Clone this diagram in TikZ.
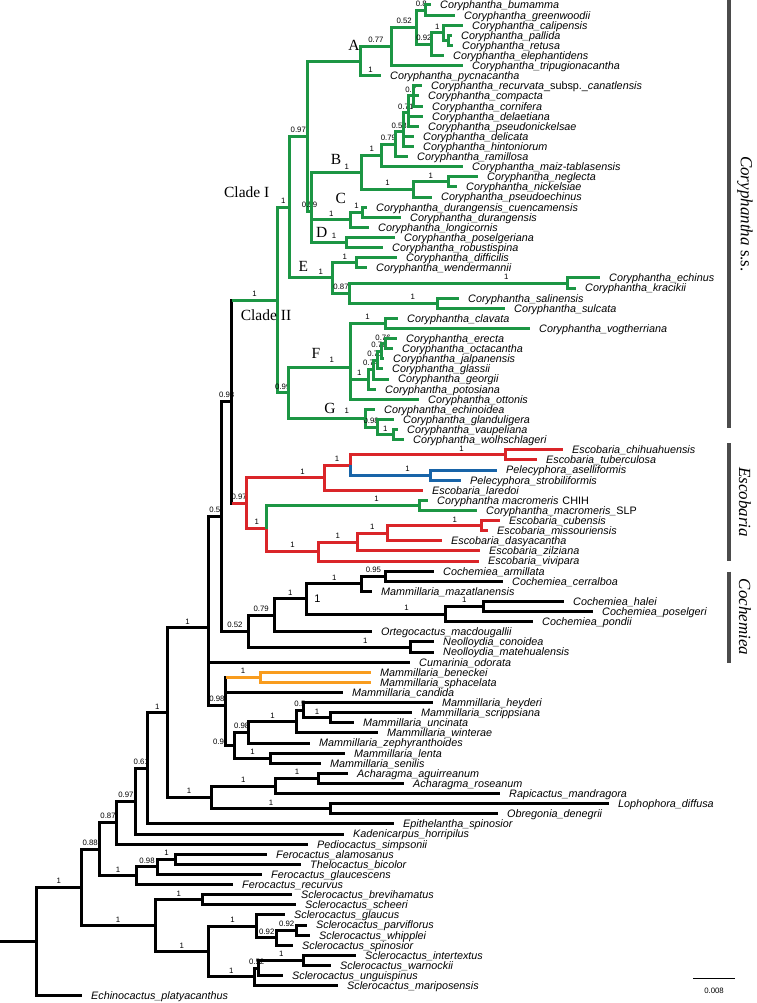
\documentclass[tikz,border=0pt]{standalone}
\usepackage{fontspec}
\setmainfont{Liberation Serif}
\setsansfont{Liberation Sans}
\usepackage{tikz}
\definecolor{cgreen}{RGB}{28,150,68}
\definecolor{cred}{RGB}{218,37,41}
\definecolor{cblue}{RGB}{24,100,168}
\definecolor{corange}{RGB}{248,156,30}
\definecolor{cbar}{RGB}{75,75,75}

\begin{document}
\begin{tikzpicture}[
    x=1pt, y=-10.11pt,
    tip/.style={
      anchor=west,
      inner xsep=9pt,
      inner ysep=0pt,
      text height=8.9pt,
      text depth=1.1pt,
      font=\sffamily\itshape\fontsize{10.8}{11}\selectfont
    },
    pp/.style={pos=0.75, anchor=south, inner sep=0.8pt, yshift=1.3pt, text=black,
      font=\sffamily\fontsize{7.8}{8}\selectfont},
    far/.style={pp, pos=0.86},
    ppat/.style={inner sep=0pt, text=black, font=\sffamily\fontsize{7.8}{8}\selectfont},
    clade/.style={inner sep=0pt, font=\fontsize{15.5}{16}\selectfont},
    group/.style={rotate=-90, inner sep=0pt, font=\itshape\fontsize{17}{18}\selectfont},
    br/.style={line width=3pt},
    blk/.style={br, black},
    grn/.style={br, cgreen},
    rd/.style={br, cred},
    blu/.style={br, cblue},
    org/.style={br, corange}
  ]

  \fill[white] (0,0.5054) rectangle (756,99.71);
  \useasboundingbox (0,0.5054) rectangle (756,99.71);

  % internal nodes
  \coordinate (stub) at (0,93.64);
  \coordinate (root) at (36.5,93.64);
  \coordinate (n1) at (81,88.28);
  \coordinate (n088) at (99.3,84.5);
  \coordinate (n087) at (116.7,81.87);
  \coordinate (n097) at (135,79.75);
  \coordinate (n061) at (147.5,76.5);
  \coordinate (n1b) at (167,70.99);
  \coordinate (nbig) at (208,62.61);
  \coordinate (n05) at (221.7,51.58);
  \coordinate (n093) at (231.7,40.22);
  \coordinate (cory) at (277.3,30.18);
  \coordinate (cl1) at (289.3,21);
  \coordinate (n097c) at (307.3,13.99);
  \coordinate (na) at (360,6.55);
  \coordinate (n077) at (391.7,5.09);
  \coordinate (n052) at (416.7,3.19);
  \coordinate (n08) at (425.7,1.5);
  \coordinate (n092) at (431,4.88);
  \coordinate (n1a) at (443.3,3.75);
  \coordinate (n1pr) at (448.3,4.5);
  \coordinate (n059) at (311.7,21.44);
  \coordinate (nb) at (361.7,17.57);
  \coordinate (nb1) at (381.7,15.89);
  \coordinate (n079) at (395,14.78);
  \coordinate (n053) at (403.3,13.56);
  \coordinate (n071) at (408.3,11.67);
  \coordinate (n07) at (413.3,10);
  \coordinate (nneg) at (413.3,19.25);
  \coordinate (nnn) at (448.3,18.5);
  \coordinate (nc) at (350.7,22.25);
  \coordinate (ncc) at (362.3,21.5);
  \coordinate (nd) at (346.7,24.5);
  \coordinate (ne) at (332.7,28);
  \coordinate (ndw) at (356.7,26.5);
  \coordinate (n087e) at (349.3,29.5);
  \coordinate (nek) at (567.3,28.5);
  \coordinate (nss) at (437.3,30.5);
  \coordinate (cl2) at (288.3,39.36);
  \coordinate (nf) at (350,36.84);
  \coordinate (nclav) at (385,32.5);
  \coordinate (n1f) at (368.3,38.03);
  \coordinate (n074) at (373,37.06);
  \coordinate (n071f) at (377,36.13);
  \coordinate (n076b) at (381,35.25);
  \coordinate (n076a) at (385,34.5);
  \coordinate (ng) at (365,41.88);
  \coordinate (n098g) at (377.3,42.75);
  \coordinate (n1g) at (393.3,43.5);
  \coordinate (nesc) at (246.7,50.27);
  \coordinate (neu) at (324.3,47.75);
  \coordinate (npe) at (350,46.5);
  \coordinate (nct) at (505,45.5);
  \coordinate (nas) at (430,47.5);
  \coordinate (nel) at (266.7,52.78);
  \coordinate (nmac) at (419.3,50.5);
  \coordinate (nviv) at (318.3,55.06);
  \coordinate (nzil) at (357.3,54.13);
  \coordinate (ndas) at (387.3,53.25);
  \coordinate (ncm) at (481,52.5);
  \coordinate (n052c) at (248.2,62.94);
  \coordinate (n079c) at (274,61.38);
  \coordinate (n1c) at (306.7,59.75);
  \coordinate (nmaz) at (361.7,58.25);
  \coordinate (n095) at (385,57.5);
  \coordinate (nhpp) at (445.2,61.25);
  \coordinate (nhp) at (483.1,60.5);
  \coordinate (nneo) at (410.7,64.5);
  \coordinate (n098) at (225.8,70.24);
  \coordinate (nor) at (260.3,67.5);
  \coordinate (n09) at (234.5,74.22);
  \coordinate (n098m) at (248.7,72.94);
  \coordinate (n1m) at (296.5,71.88);
  \coordinate (n05m) at (303.3,70.75);
  \coordinate (nsu) at (330.9,71.5);
  \coordinate (nls) at (270.6,75.5);
  \coordinate (nach) at (211.3,79.38);
  \coordinate (nar) at (275.5,78.25);
  \coordinate (nap) at (318.4,77.5);
  \coordinate (nlo) at (330.6,80.5);
  \coordinate (nfero) at (136.7,87.13);
  \coordinate (n098f) at (157.3,86.25);
  \coordinate (nft) at (175.6,85.5);
  \coordinate (nsc1) at (155.2,92.06);
  \coordinate (nbs) at (202.2,89.5);
  \coordinate (nsc2) at (208.2,94.63);
  \coordinate (ngl) at (256.8,92.13);
  \coordinate (n092a) at (276.8,93.25);
  \coordinate (n092b) at (296.5,92.5);
  \coordinate (n052s) at (254.5,97.13);
  \coordinate (nx) at (258.9,96.25);
  \coordinate (niw) at (303.6,95.5);

  % tips
  \node[tip] (bum) at (431,1) {Coryphantha\_bumamma};
  \node[tip] (gre) at (455,2) {Coryphantha\_greenwoodii};
  \node[tip] (cal) at (463,3) {Coryphantha\_calipensis};
  \node[tip] (pal) at (452,4) {Coryphantha\_pallida};
  \node[tip] (ret) at (453,5) {Coryphantha\_retusa};
  \node[tip] (ele) at (444,6) {Coryphantha\_elephantidens};
  \node[tip] (tri) at (463,7) {Coryphantha\_tripugionacantha};
  \node[tip] (pyc) at (381,8) {Coryphantha\_pycnacantha};
  \node[tip] (rec) at (422,9) {Coryphantha\_recurvata{\upshape\_subsp.\_}canatlensis};
  \node[tip] (com) at (419,10) {Coryphantha\_compacta};
  \node[tip] (cor) at (423,11) {Coryphantha\_cornifera};
  \node[tip] (del) at (423,12) {Coryphantha\_delaetiana};
  \node[tip] (pse) at (419,13) {Coryphantha\_pseudonickelsae};
  \node[tip] (dlc) at (414,14) {Coryphantha\_delicata};
  \node[tip] (hin) at (414,15) {Coryphantha\_hintoniorum};
  \node[tip] (ram) at (408,16) {Coryphantha\_ramillosa};
  \node[tip] (mai) at (463,17) {Coryphantha\_maiz-tablasensis};
  \node[tip] (neg) at (478,18) {Coryphantha\_neglecta};
  \node[tip] (nic) at (457,19) {Coryphantha\_nickelsiae};
  \node[tip] (pec) at (432,20) {Coryphantha\_pseudoechinus};
  \node[tip] (duc) at (367,21) {Coryphantha\_durangensis\_cuencamensis};
  \node[tip] (dur) at (401,22) {Coryphantha\_durangensis};
  \node[tip] (lon) at (369,23) {Coryphantha\_longicornis};
  \node[tip] (psl) at (395,24) {Coryphantha\_poselgeriana};
  \node[tip] (rob) at (383,25) {Coryphantha\_robustispina};
  \node[tip] (dif) at (397,26) {Coryphantha\_difficilis};
  \node[tip] (wen) at (367,27) {Coryphantha\_wendermannii};
  \node[tip] (ecn) at (600,28) {Coryphantha\_echinus};
  \node[tip] (kra) at (576,29) {Coryphantha\_kracikii};
  \node[tip] (sal) at (459,30) {Coryphantha\_salinensis};
  \node[tip] (sul) at (505,31) {Coryphantha\_sulcata};
  \node[tip] (cla) at (398,32) {Coryphantha\_clavata};
  \node[tip] (vog) at (530,33) {Coryphantha\_vogtherriana};
  \node[tip] (ere) at (397,34) {Coryphantha\_erecta};
  \node[tip] (oct) at (393,35) {Coryphantha\_octacantha};
  \node[tip] (jal) at (384,36) {Coryphantha\_jalpanensis};
  \node[tip] (gla) at (383,37) {Coryphantha\_glassii};
  \node[tip] (geo) at (389,38) {Coryphantha\_georgii};
  \node[tip] (pot) at (376,39) {Coryphantha\_potosiana};
  \node[tip] (ott) at (419,40) {Coryphantha\_ottonis};
  \node[tip] (eno) at (375,41) {Coryphantha\_echinoidea};
  \node[tip] (gld) at (394,42) {Coryphantha\_glanduligera};
  \node[tip] (vau) at (398,43) {Coryphantha\_vaupeliana};
  \node[tip] (wol) at (404,44) {Coryphantha\_wolhschlageri};
  \node[tip] (chi) at (563,45) {Escobaria\_chihuahuensis};
  \node[tip] (tub) at (537,46) {Escobaria\_tuberculosa};
  \node[tip] (ase) at (497,47) {Pelecyphora\_aselliformis};
  \node[tip] (str) at (461,48) {Pelecyphora\_strobiliformis};
  \node[tip] (lar) at (423,49) {Escobaria\_laredoi};
  \node[tip] (mch) at (428,50) {Coryphantha macromeris\hspace{4pt}{\upshape CHIH}};
  \node[tip] (msl) at (477,51) {Coryphantha\_macromeris\_{\upshape SLP}};
  \node[tip] (cub) at (500,52) {Escobaria\_cubensis};
  \node[tip] (mis) at (488,53) {Escobaria\_missouriensis};
  \node[tip] (das) at (442,54) {Escobaria\_dasyacantha};
  \node[tip] (zil) at (480,55) {Escobaria\_zilziana};
  \node[tip] (viv) at (479,56) {Escobaria\_vivipara};
  \node[tip] (arm) at (434,57) {Cochemiea\_armillata};
  \node[tip] (cer) at (503,58) {Cochemiea\_cerralboa};
  \node[tip] (maz) at (372,59) {Mammillaria\_mazatlanensis};
  \node[tip] (hal) at (564,60) {Cochemiea\_halei};
  \node[tip] (psg) at (593,61) {Cochemiea\_poselgeri};
  \node[tip] (pon) at (533,62) {Cochemiea\_pondii};
  \node[tip] (ort) at (372,63) {Ortegocactus\_macdougallii};
  \node[tip] (con) at (434,64) {Neolloydia\_conoidea};
  \node[tip] (mat) at (434,65) {Neolloydia\_matehualensis};
  \node[tip] (cum) at (410,66) {Cumarinia\_odorata};
  \node[tip] (ben) at (371,67) {Mammillaria\_beneckei};
  \node[tip] (sph) at (371,68) {Mammillaria\_sphacelata};
  \node[tip] (can) at (343,69) {Mammillaria\_candida};
  \node[tip] (hey) at (433,70) {Mammillaria\_heyderi};
  \node[tip] (scr) at (412,71) {Mammillaria\_scrippsiana};
  \node[tip] (unc) at (354,72) {Mammillaria\_uncinata};
  \node[tip] (win) at (378,73) {Mammillaria\_winterae};
  \node[tip] (zep) at (310,74) {Mammillaria\_zephyranthoides};
  \node[tip] (len) at (345,75) {Mammillaria\_lenta};
  \node[tip] (sen) at (321,76) {Mammillaria\_senilis};
  \node[tip] (agu) at (348,77) {Acharagma\_aguirreanum};
  \node[tip] (ros) at (404,78) {Acharagma\_roseanum};
  \node[tip] (rap) at (500,79) {Rapicactus\_mandragora};
  \node[tip] (lop) at (609,80) {Lophophora\_diffusa};
  \node[tip] (obr) at (498,81) {Obregonia\_denegrii};
  \node[tip] (epi) at (394,82) {Epithelantha\_spinosior};
  \node[tip] (kad) at (344,83) {Kadenicarpus\_horripilus};
  \node[tip] (ped) at (308,84) {Pediocactus\_simpsonii};
  \node[tip] (fal) at (267,85) {Ferocactus\_alamosanus};
  \node[tip] (the) at (301,86) {Thelocactus\_bicolor};
  \node[tip] (fgl) at (262,87) {Ferocactus\_glaucescens};
  \node[tip] (fre) at (233,88) {Ferocactus\_recurvus};
  \node[tip] (sbr) at (292,89) {Sclerocactus\_brevihamatus};
  \node[tip] (ssc) at (296,90) {Sclerocactus\_scheeri};
  \node[tip] (sgl) at (285,91) {Sclerocactus\_glaucus};
  \node[tip] (spa) at (307,92) {Sclerocactus\_parviflorus};
  \node[tip] (swh) at (310,93) {Sclerocactus\_whipplei};
  \node[tip] (ssp) at (293,94) {Sclerocactus\_spinosior};
  \node[tip] (sit) at (356,95) {Sclerocactus\_intertextus};
  \node[tip] (swa) at (331,96) {Sclerocactus\_warnockii};
  \node[tip] (sun) at (283,97) {Sclerocactus\_unguispinus};
  \node[tip] (sma) at (338,98) {Sclerocactus\_mariposensis};
  \node[tip] (epl) at (82,99) {Echinocactus\_platyacanthus};

  % black branches
  \draw[blk] (stub) -- (root);
  \foreach \pa/\ch/\pr in {root/n1/1, n1/n088/0.88, n1/nsc1/1, n088/n087/0.87,
      n088/nfero/1, n087/n097/0.97, n097/n061/0.61, n061/n1b/1, n1b/nbig/1,
      n1b/nach/1, nbig/n05/0.5, nbig/n098/0.98, n05/n093/0.93, n05/n052c/0.52,
      n052c/n079c/0.79, n079c/n1c/1, n1c/nmaz/1, nmaz/n095/0.95, nhpp/nhp/1,
      n09/n098m/0.98, n09/nls/1, n098m/n1m/1, n1m/n05m/0.5, n05m/nsu/1,
      nach/nar/1, nach/nlo/1, nar/nap/1, nfero/n098f/0.98, n098f/nft/1,
      nsc1/nbs/1, nsc1/nsc2/1, nsc2/ngl/1, nsc2/n052s/1, ngl/n092a/0.92,
      n092a/n092b/0.92, n052s/nx/0.52, nx/niw/1}
    \draw[blk] (\pa) |- node[pp] (s\ch) {\pr} (\ch);
  \foreach \pa/\ch/\pr in {n052c/nneo/1, n1c/nhpp/1}
    \draw[blk] (\pa) |- node[far] (s\ch) {\pr} (\ch);
  \foreach \pa/\ch in {root/epl, n087/ped, n097/kad, n061/epi, nbig/cum, n098/can,
      n098/n09, n079c/ort, nmaz/maz, n095/arm, n095/cer, nhpp/pon, nhp/hal,
      nhp/psg, nneo/con, nneo/mat, n098m/zep, n1m/win, n05m/hey, nsu/scr,
      nsu/unc, nls/len, nls/sen, nar/rap, nap/agu, nap/ros, nlo/lop, nlo/obr,
      nfero/fre, n098f/fgl, nft/fal, nft/the, nbs/sbr, nbs/ssc, ngl/sgl,
      n092a/ssp, n092b/spa, n092b/swh, n052s/sma, nx/sun, niw/sit, niw/swa}
    \draw[blk] (\pa) |- (\ch);
  \node[ppat] (s09) at (218.5,73.9) {0.9};

  % Coryphantha s.s.
  \draw[blk, line cap=rect] (cory -| n093) -- (nesc -| n093);
  \draw[grn] (cory -| n093) -- node[pp, pos=0.5] (scory) {1} (cory);
  \foreach \pa/\ch/\pr in {cory/cl1/1, cory/cl2/0.99, cl1/n097c/0.97,
      n097c/n059/0.59, na/n077/0.77, na/pyc/1, n077/n052/0.52, n052/n08/0.8,
      n052/n092/0.92, n092/n1a/1, n059/nc/1, nb/nb1/1, nb/nneg/1,
      nb1/n079/0.79, n079/n053/0.53, n053/n071/0.71, n071/n07/0.7,
      nneg/nnn/1, nc/ncc/1, ne/ndw/1, ne/n087e/0.87, nf/nclav/1, nf/n1f/1,
      n1f/n074/0.74, n074/n071f/0.71, n071f/n076b/0.76, n076b/n076a/0.76,
      ng/n098g/0.98, n098g/n1g/1}
    \draw[grn] (\pa) |- node[pp] (s\ch) {\pr} (\ch);
  \foreach \pa/\ch/\pr in {n087e/nek/1, n087e/nss/1}
    \draw[grn] (\pa) |- node[far] (s\ch) {\pr} (\ch);
  \foreach \pa/\ch in {cl1/ne, n097c/na, n059/nb, n059/nd, cl2/nf, cl2/ng,
      n077/tri, n08/bum, n08/gre, n092/ele, n1a/cal, n1a/n1pr, n1pr/pal,
      n1pr/ret, nb1/mai, n079/ram, n053/dlc, n053/hin, n071/del, n071/pse,
      n07/rec, n07/com, n07/cor, nneg/pec, nnn/neg, nnn/nic, nc/lon,
      ncc/duc, ncc/dur, nd/psl, nd/rob, ndw/dif, ndw/wen, nek/ecn, nek/kra,
      nss/sal, nss/sul, nf/ott, nclav/cla, nclav/vog, n1f/pot, n074/geo,
      n071f/gla, n076b/jal, n076a/ere, n076a/oct, ng/eno, n098g/gld,
      n1g/vau, n1g/wol}
    \draw[grn] (\pa) |- (\ch);

  % Escobaria
  \draw[rd] (nesc -| n093) -- node[pp, pos=0.5] (snesc) {0.97} (nesc);
  \foreach \pa/\ch/\pr in {nesc/nel/1, neu/npe/1, nel/nviv/1, nviv/nzil/1,
      nzil/ndas/1}
    \draw[rd] (\pa) |- node[pp] (s\ch) {\pr} (\ch);
  \foreach \pa/\ch/\pr in {nesc/neu/1, npe/nct/1, ndas/ncm/1}
    \draw[rd] (\pa) |- node[far] (s\ch) {\pr} (\ch);
  \foreach \pa/\ch in {neu/lar, nct/chi, nct/tub, nviv/viv, nzil/zil,
      ndas/das, ncm/cub, ncm/mis}
    \draw[rd] (\pa) |- (\ch);
  \draw[blu] (npe) |- node[far] (snas) {1} (nas);
  \foreach \ch in {ase, str}
    \draw[blu] (nas) |- (\ch);
  \draw[grn] (nel) |- node[far] (snmac) {1} (nmac);
  \foreach \ch in {mch, msl}
    \draw[grn] (nmac) |- (\ch);

  % orange pair
  \draw[blk, line cap=rect] (nor -| n098) -- (n098);
  \draw[org] (nor -| n098) -- node[pp, pos=0.5] (snor) {1} (nor);
  \foreach \ch in {ben, sph}
    \draw[org] (nor) |- (\ch);

  % clade letters
  \node[clade] (letA) at (354,4.96) {A};
  \node[clade] (letB) at (336,16.26) {B};
  \node[ppat] (sB) at (346.7,16.99) {1};
  \node[clade] (letC) at (340.7,20.12) {C};
  \node[clade] (letD) at (321.7,23.52) {D};
  \node[ppat] (sD) at (334,23.85) {1};
  \node[clade] (letE) at (303.3,26.88) {E};
  \node[ppat] (sE) at (320.7,27.38) {1};
  \node[clade] (letF) at (316,35.45) {F};
  \node[ppat] (sF) at (331.7,36.11) {1};
  \node[clade] (letG) at (330,40.86) {G};
  \node[ppat] (sG) at (346.7,41.16) {1};
  \node[clade] (cladeI) at (246.7,19.47) {Clade I};
  \node[clade] (cladeII) at (266,31.66) {Clade II};
  \node[inner sep=0pt, font=\sffamily\fontsize{11}{12}\selectfont] (big1) at (317.3,59.69) {1};

  % groups on the right
  \coordinate (barA) at (729,0.5054);
  \coordinate (barB) at (729,42.84);
  \coordinate (barC) at (729,44.35);
  \coordinate (barD) at (729,56.0);
  \coordinate (barE) at (729,57.05);
  \coordinate (barF) at (729,66.08);
  \draw[cbar, line width=4pt] (barA) -- (barB);
  \draw[cbar, line width=4pt] (barC) -- (barD);
  \draw[cbar, line width=4pt] (barE) -- (barF);
  \node[group] (gCory) at (745,21.67) {Coryphantha {\upshape s.s.}};
  \node[group] (gEsco) at (745,50.16) {Escobaria};
  \node[group] (gCoch) at (745,61.53) {Cochemiea};

  % scale bar
  \coordinate (sb1) at (693,97.24);
  \coordinate (sb2) at (735,97.24);
  \draw[line width=1pt] (sb1) -- (sb2);
  \node[ppat] (sbl) at (714,98.53) {0.008};

\end{tikzpicture}
\end{document}
